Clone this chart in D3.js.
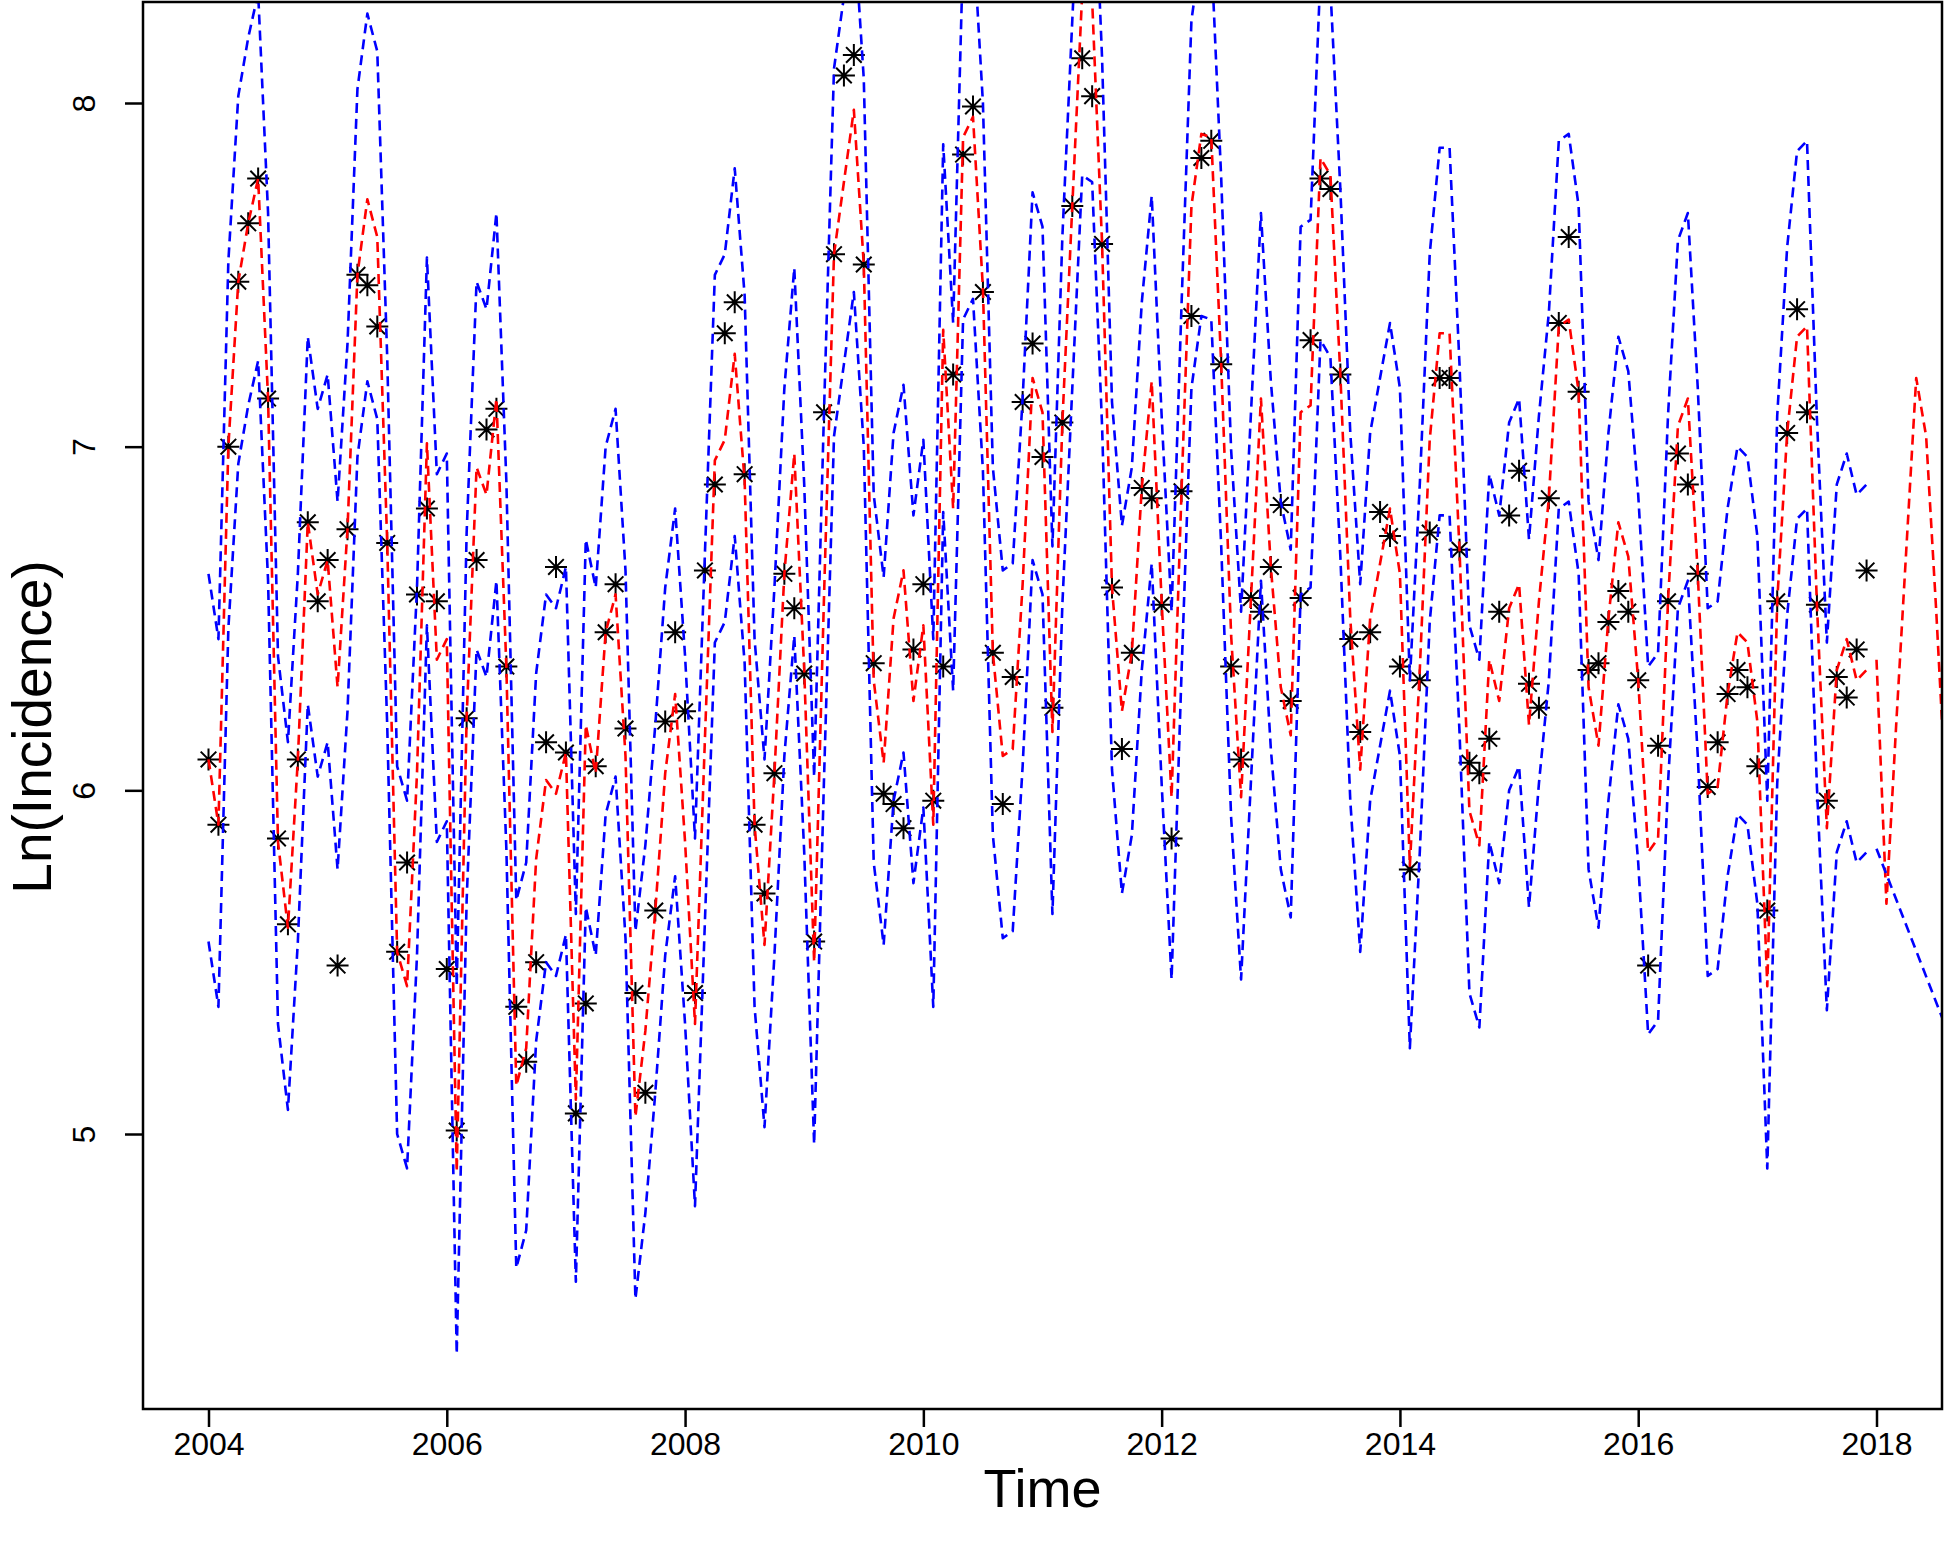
<!DOCTYPE html>
<html><head><meta charset="utf-8">
<script src="https://cdn.jsdelivr.net/npm/d3@7"></script>
<style>html,body{margin:0;padding:0;background:#fff;} svg{display:block;} text{font-family:"Liberation Sans", Arial, sans-serif;}</style>
</head><body><svg id="chart" width="1946" height="1544"></svg>
<script>
const startYear = 2004;
const xTickYears = [2004, 2006, 2008, 2010, 2012, 2014, 2016, 2018];
const yTickValues = [5, 6, 7, 8];

const observed = [
6.09,5.90,7.00,7.48,7.65,7.78,7.14,5.86,5.61,6.09,6.78,6.55,
6.67,5.49,6.76,7.50,7.47,7.35,6.72,5.53,5.79,6.57,6.82,6.55,
5.48,5.01,6.21,6.67,7.05,7.11,6.36,5.37,5.21,5.50,6.14,6.65,
6.11,5.06,5.38,6.07,6.46,6.60,6.18,5.41,5.12,5.65,6.20,6.46,
6.23,5.41,6.64,6.89,7.33,7.42,6.92,5.90,5.70,6.05,6.63,6.53,
6.34,5.56,7.10,7.56,8.08,8.14,7.53,6.37,5.99,5.96,5.89,6.41,
6.60,5.97,6.36,7.21,7.85,7.99,7.45,6.40,5.96,6.33,7.13,7.30,
6.97,6.24,7.07,7.70,8.13,8.02,7.59,6.59,6.12,6.40,6.88,6.85,
6.54,5.86,6.87,7.38,7.84,7.89,7.24,6.36,6.09,6.56,6.52,6.65,
6.83,6.26,6.56,7.31,7.78,7.75,7.21,6.44,6.17,6.46,6.81,6.74,
6.36,5.77,6.32,6.75,7.20,7.20,6.70,6.08,6.05,6.15,6.52,6.80,
6.93,6.31,6.24,6.85,7.36,7.61,7.16,6.35,6.37,6.49,6.58,6.52,
6.32,5.49,6.13,6.55,6.98,6.89,6.63,6.01,6.14,6.28,6.35,6.30,
6.07,5.65,6.55,7.04,7.40,7.10,6.54,5.97,6.33,6.27,6.41,6.64
];

const fitted = [
6.09,5.90,7.00,7.48,7.65,7.78,7.14,5.85,5.60,6.09,6.78,6.57,
6.67,6.30,6.76,7.50,7.72,7.61,6.72,5.53,5.43,6.05,7.01,6.38,
6.44,4.89,6.21,6.94,6.86,7.14,6.36,5.14,5.25,5.80,6.03,5.99,
6.11,5.10,6.19,6.05,6.46,6.57,6.10,5.05,5.30,5.65,6.05,6.28,
5.85,5.32,6.15,6.96,7.02,7.27,6.90,5.90,5.55,6.05,6.63,6.98,
6.35,5.50,6.57,7.56,7.77,7.98,7.53,6.32,6.08,6.50,6.64,6.26,
6.48,5.90,7.34,6.82,7.90,7.96,7.46,6.40,6.10,6.12,6.60,7.20,
7.10,6.17,7.07,7.70,8.32,8.30,7.59,6.59,6.23,6.40,6.88,7.19,
6.55,5.98,6.87,7.70,7.91,7.90,7.24,6.45,5.98,6.56,7.14,6.65,
6.30,6.16,7.10,7.12,7.84,7.79,7.21,6.50,6.06,6.50,6.66,6.82,
6.63,5.78,6.35,7.02,7.33,7.33,6.70,5.94,5.84,6.38,6.26,6.53,
6.60,6.19,6.55,6.85,7.35,7.37,7.16,6.30,6.13,6.50,6.78,6.68,
6.32,5.82,5.86,6.55,7.06,7.14,6.63,5.99,6.01,6.28,6.46,6.43,
6.20,5.43,6.55,7.04,7.32,7.35,6.54,5.89,6.35,6.44,6.32,6.35
];

const upperBound = [
6.63,6.44,7.54,8.02,8.19,8.32,7.68,6.39,6.14,6.63,7.32,7.11,
7.21,6.84,7.30,8.04,8.26,8.15,7.26,6.07,5.97,6.59,7.55,6.92,
6.98,5.43,6.75,7.48,7.40,7.68,6.90,5.68,5.79,6.34,6.57,6.53,
6.65,5.64,6.73,6.59,7.00,7.11,6.64,5.59,5.84,6.19,6.59,6.82,
6.39,5.86,6.69,7.50,7.56,7.81,7.44,6.44,6.09,6.59,7.17,7.52,
6.89,6.04,7.11,8.10,8.31,8.52,8.07,6.86,6.62,7.04,7.18,6.80,
7.02,6.44,7.88,7.36,8.44,8.50,8.00,6.94,6.64,6.66,7.14,7.74,
7.64,6.71,7.61,8.24,8.86,8.84,8.13,7.13,6.77,6.94,7.42,7.73,
7.09,6.52,7.41,8.24,8.45,8.44,7.78,6.99,6.52,7.10,7.68,7.19,
6.84,6.70,7.64,7.66,8.38,8.33,7.75,7.04,6.60,7.04,7.20,7.36,
7.17,6.32,6.89,7.56,7.87,7.87,7.24,6.48,6.38,6.92,6.80,7.07,
7.14,6.73,7.09,7.39,7.89,7.91,7.70,6.84,6.67,7.04,7.32,7.22,
6.86,6.36,6.40,7.09,7.60,7.68,7.17,6.53,6.55,6.82,7.00,6.97,
6.74,5.97,7.09,7.58,7.86,7.89,7.08,6.43,6.89,6.98,6.86,6.89
];

const lowerBound = [
5.56,5.37,6.47,6.95,7.12,7.25,6.61,5.32,5.07,5.56,6.25,6.04,
6.14,5.77,6.23,6.97,7.19,7.08,6.19,5.00,4.90,5.52,6.48,5.85,
5.91,4.36,5.68,6.41,6.33,6.61,5.83,4.61,4.72,5.27,5.50,5.46,
5.58,4.57,5.66,5.52,5.93,6.04,5.57,4.52,4.77,5.12,5.52,5.75,
5.32,4.79,5.62,6.43,6.49,6.74,6.37,5.37,5.02,5.52,6.10,6.45,
5.82,4.97,6.04,7.03,7.24,7.45,7.00,5.79,5.55,5.97,6.11,5.73,
5.95,5.37,6.81,6.29,7.37,7.43,6.93,5.87,5.57,5.59,6.07,6.67,
6.57,5.64,6.54,7.17,7.79,7.77,7.06,6.06,5.70,5.87,6.35,6.66,
6.02,5.45,6.34,7.17,7.38,7.37,6.71,5.92,5.45,6.03,6.61,6.12,
5.77,5.63,6.57,6.59,7.31,7.26,6.68,5.97,5.53,5.97,6.13,6.29,
6.10,5.25,5.82,6.49,6.80,6.80,6.17,5.41,5.31,5.85,5.73,6.00,
6.07,5.66,6.02,6.32,6.82,6.84,6.63,5.77,5.60,5.97,6.25,6.15,
5.79,5.29,5.33,6.02,6.53,6.61,6.10,5.46,5.48,5.75,5.93,5.90,
5.67,4.90,6.02,6.51,6.79,6.82,6.01,5.36,5.82,5.91,5.79,5.82
];

const forecastStart = 2018;
const forecast = [6.38, 5.67, 6.20, 6.70, 7.20, 7.03, 6.53, 5.98];
const forecastLowerTimes = [2018.0, 2018.583];
const forecastLower = [5.83, 5.31];

// ---- layout ----
const W = 1946, H = 1544;
const plot = {left: 143, right: 1942, top: 2, bottom: 1409};

const svg = d3.select("#chart");
svg.append("rect").attr("width", W).attr("height", H).attr("fill", "#fff");

const x = d3.scaleLinear().domain([2004, 2018]).range([208.5, 1876.5]);
const y = d3.scaleLinear().domain([5, 8]).range([1134, 103]);

const monthly = arr => arr.map((v, i) => ({t: startYear + i / 12, v}));
const obsPts = monthly(observed);
const fitPts = monthly(fitted);
const upPts = monthly(upperBound);
const loPts = monthly(lowerBound);
const fcPts = forecast.map((v, i) => ({t: forecastStart + i / 12, v}));
const fcLoPts = forecastLower.map((v, i) => ({t: forecastLowerTimes[i], v}));

svg.append("clipPath").attr("id", "clip")
  .append("rect").attr("x", plot.left).attr("y", plot.top)
  .attr("width", plot.right - plot.left).attr("height", plot.bottom - plot.top);

const g = svg.append("g").attr("clip-path", "url(#clip)");

// observed points (pch = 8)
const a = 11, b = 7.8;
const starPath = `M${-a},0H${a}M0,${-a}V${a}M${-b},${-b}L${b},${b}M${-b},${b}L${b},${-b}`;
g.append("g").selectAll("path").data(obsPts).join("path")
  .attr("d", starPath)
  .attr("transform", d => `translate(${x(d.t)},${y(d.v)})`)
  .attr("fill", "none").attr("stroke", "#000").attr("stroke-width", 2);

const line = d3.line().x(d => x(d.t)).y(d => y(d.v));
const dash = "10,6";
function drawLine(data, color) {
  g.append("path").datum(data).attr("d", line)
    .attr("fill", "none").attr("stroke", color)
    .attr("stroke-width", 2.6).attr("stroke-dasharray", dash)
    .attr("stroke-linejoin", "round");
}
drawLine(fitPts, "#ff0000");
drawLine(fcPts, "#ff0000");
drawLine(upPts, "#0000ff");
drawLine(loPts, "#0000ff");
drawLine(fcLoPts, "#0000ff");

// box
svg.append("rect").attr("x", plot.left).attr("y", plot.top)
  .attr("width", plot.right - plot.left).attr("height", plot.bottom - plot.top)
  .attr("fill", "none").attr("stroke", "#000").attr("stroke-width", 2.5);

// x axis
const xAxis = svg.append("g").attr("transform", `translate(0,${plot.bottom})`)
  .call(d3.axisBottom(x).tickValues(xTickYears).tickFormat(d3.format("d")).tickSize(18).tickPadding(5));
xAxis.select(".domain").remove();
xAxis.selectAll("line").attr("stroke", "#000").attr("stroke-width", 2.5);
xAxis.selectAll("text").attr("font-size", 32).attr("fill", "#000")
  .style("font-family", '"Liberation Sans", Arial, sans-serif');

// y axis
const yAxis = svg.append("g").attr("transform", `translate(${plot.left},0)`)
  .call(d3.axisLeft(y).tickValues(yTickValues).tickFormat(d3.format("d")).tickSize(18));
yAxis.select(".domain").remove();
yAxis.selectAll("line").attr("stroke", "#000").attr("stroke-width", 2.5);
yAxis.selectAll("text")
  .attr("x", null).attr("dy", null)
  .attr("transform", "translate(-59,0) rotate(-90)")
  .attr("text-anchor", "middle").attr("dy", "0.35em")
  .attr("font-size", 32).attr("fill", "#000")
  .style("font-family", '"Liberation Sans", Arial, sans-serif');

// titles
svg.append("text").attr("x", (plot.left + plot.right) / 2).attr("y", 1507)
  .attr("text-anchor", "middle").attr("font-size", 54).attr("fill", "#000").text("Time");
svg.append("text").attr("transform", `translate(51,727) rotate(-90)`)
  .attr("text-anchor", "middle").attr("font-size", 55).attr("fill", "#000").text("Ln(Incidence)");
</script></body></html>
